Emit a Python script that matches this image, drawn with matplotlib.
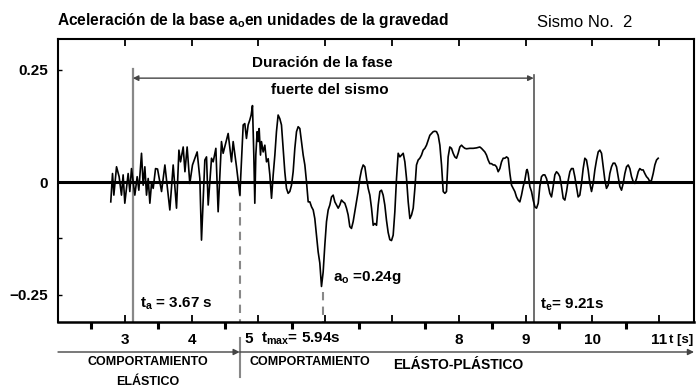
import matplotlib
matplotlib.use("Agg")
import matplotlib.pyplot as plt
from matplotlib import transforms

plt.rcParams['font.family'] = ['Liberation Sans', 'DejaVu Sans']
plt.rcParams['mathtext.fontset'] = 'custom'
plt.rcParams['mathtext.rm'] = 'Liberation Sans:bold'
plt.rcParams['mathtext.it'] = 'Liberation Sans:bold'
plt.rcParams['mathtext.bf'] = 'Liberation Sans:bold'

# registro digitalizado: tiempo [s] y aceleracion [g]
t_s = [
    2.790, 2.816, 2.836, 2.876, 2.915, 2.950, 2.975, 3.000, 3.050, 3.075,
    3.100, 3.150, 3.185, 3.210, 3.250, 3.275, 3.300, 3.325, 3.350, 3.375,
    3.400, 3.425, 3.460, 3.490, 3.550, 3.600, 3.674, 3.724, 3.774, 3.810,
    3.834, 3.874, 3.900, 3.933, 3.973, 4.013, 4.083, 4.123, 4.148, 4.198,
    4.223, 4.248, 4.298, 4.323, 4.363, 4.397, 4.447, 4.472, 4.547, 4.597,
    4.622, 4.672, 4.722, 4.772, 4.796, 4.821, 4.846, 4.871, 4.891, 4.911,
    4.931, 4.946, 4.961, 4.981, 4.996, 5.011, 5.031, 5.046, 5.071, 5.096,
    5.121, 5.146, 5.171, 5.196, 5.221, 5.246, 5.270, 5.295, 5.320, 5.345,
    5.370, 5.395, 5.420, 5.445, 5.470, 5.495, 5.520, 5.545, 5.570, 5.595,
    5.620, 5.645, 5.670, 5.695, 5.720, 5.745, 5.770, 5.795, 5.820, 5.844,
    5.869, 5.894, 5.919, 5.944, 5.969, 5.994, 6.019, 6.044, 6.069, 6.094,
    6.119, 6.144, 6.169, 6.194, 6.218, 6.243, 6.268, 6.293, 6.318, 6.343,
    6.368, 6.393, 6.418, 6.443, 6.468, 6.493, 6.518, 6.543, 6.568, 6.593,
    6.618, 6.643, 6.668, 6.693, 6.718, 6.743, 6.768, 6.793, 6.818, 6.842,
    6.867, 6.892, 6.917, 6.942, 6.967, 6.992, 7.017, 7.042, 7.067, 7.092,
    7.117, 7.142, 7.167, 7.192, 7.217, 7.242, 7.267, 7.292, 7.317, 7.342,
    7.366, 7.391, 7.416, 7.441, 7.466, 7.491, 7.516, 7.541, 7.566, 7.591,
    7.616, 7.641, 7.666, 7.691, 7.716, 7.741, 7.766, 7.791, 7.815, 7.840,
    7.865, 7.890, 7.915, 7.940, 7.965, 7.990, 8.015, 8.040, 8.065, 8.090,
    8.115, 8.165, 8.215, 8.265, 8.314, 8.339, 8.364, 8.389, 8.414, 8.439,
    8.464, 8.489, 8.514, 8.539, 8.564, 8.589, 8.614, 8.639, 8.664, 8.689,
    8.714, 8.739, 8.764, 8.789, 8.813, 8.838, 8.863, 8.888, 8.913, 8.938,
    8.963, 8.988, 9.013, 9.023, 9.038, 9.063, 9.088, 9.113, 9.138, 9.163,
    9.188, 9.212, 9.237, 9.262, 9.287, 9.312, 9.337, 9.362, 9.387, 9.412,
    9.437, 9.462, 9.487, 9.512, 9.537, 9.562, 9.587, 9.612, 9.637, 9.662,
    9.686, 9.711, 9.736, 9.761, 9.786, 9.811, 9.836, 9.861, 9.886, 9.911,
    9.936, 9.961, 9.986, 10.011, 10.036, 10.061, 10.086, 10.111, 10.136, 10.161,
    10.186, 10.210, 10.235, 10.260, 10.285, 10.310, 10.335, 10.360, 10.385, 10.410,
    10.435, 10.460, 10.485, 10.510, 10.535, 10.560, 10.585, 10.610, 10.635, 10.660,
    10.685, 10.709, 10.734, 10.759, 10.784, 10.809, 10.834, 10.859, 10.884, 10.909,
    10.934, 10.959, 10.984,
]
acc = [
    -0.044, 0.019, -0.029, 0.034, 0.012, -0.029, 0.016, -0.047, 0.019, -0.021,
    0.030, -0.029, 0.012, -0.018, 0.064, -0.007, 0.034, -0.029, 0.008, -0.047,
    -0.003, -0.014, 0.030, 0.029, -0.021, 0.038, -0.062, 0.038, -0.058, 0.071,
    0.045, 0.078, 0.023, 0.078, -0.003, 0.038, 0.067, 0.008, -0.129, 0.049,
    0.056, -0.051, 0.053, 0.045, 0.075, -0.066, 0.090, 0.064, 0.108, 0.045,
    0.090, 0.034, -0.029, 0.127, 0.130, 0.097, 0.127, 0.138, 0.149, 0.170,
    0.060, -0.047, 0.060, 0.112, 0.090, 0.119, 0.060, 0.090, 0.067, 0.082,
    0.045, 0.052, 0.016, -0.036, 0.016, 0.060, 0.112, 0.149, 0.141, 0.127,
    0.075, 0.023, -0.014, -0.025, -0.021, -0.007, 0.023, 0.075, 0.112, 0.123,
    0.119, 0.090, 0.060, 0.038, 0.000, -0.044, -0.044, -0.055, -0.062, -0.081,
    -0.118, -0.155, -0.180, -0.232, -0.200, -0.140, -0.088, -0.062, -0.051, -0.033,
    -0.029, -0.044, -0.051, -0.058, -0.051, -0.040, -0.044, -0.047, -0.058, -0.073,
    -0.099, -0.103, -0.088, -0.066, -0.044, -0.021, 0.008, 0.027, 0.038, 0.034,
    0.008, -0.014, -0.029, -0.058, -0.096, -0.092, -0.096, -0.051, -0.021, -0.018,
    -0.029, -0.051, -0.085, -0.112, -0.128, -0.130, -0.118, -0.066, 0.008, 0.064,
    0.056, 0.060, 0.064, 0.045, 0.008, -0.044, -0.081, -0.073, -0.058, -0.014,
    0.038, 0.049, 0.053, 0.060, 0.071, 0.075, 0.082, 0.093, 0.104, 0.108,
    0.112, 0.113, 0.112, 0.104, 0.082, 0.038, -0.021, -0.025, -0.021, 0.056,
    0.078, 0.075, 0.064, 0.056, 0.053, 0.064, 0.078, 0.082, 0.078, 0.075,
    0.074, 0.075, 0.075, 0.076, 0.078, 0.075, 0.071, 0.067, 0.060, 0.049,
    0.041, 0.041, 0.038, 0.038, 0.034, 0.023, 0.030, 0.045, 0.053, 0.053,
    0.056, 0.053, 0.019, -0.007, -0.014, -0.021, -0.033, -0.040, -0.044, -0.029,
    -0.010, 0.004, 0.026, 0.028, 0.019, -0.010, -0.021, -0.040, -0.055, -0.058,
    -0.047, -0.010, 0.012, 0.016, 0.016, 0.008, -0.007, -0.025, -0.033, -0.010,
    0.016, 0.023, 0.019, 0.012, -0.010, -0.036, -0.040, -0.021, 0.004, 0.023,
    0.030, 0.030, 0.012, -0.010, -0.033, -0.029, -0.003, 0.030, 0.053, 0.049,
    0.027, -0.003, -0.021, -0.003, 0.027, 0.049, 0.067, 0.071, 0.064, 0.034,
    0.004, -0.014, -0.007, 0.019, 0.034, 0.042, 0.042, 0.034, 0.012, -0.010,
    -0.018, -0.003, 0.019, 0.034, 0.038, 0.030, 0.012, 0.001, -0.003, 0.008,
    0.023, 0.030, 0.027, 0.027, 0.019, 0.012, 0.008, 0.001, 0.004, 0.019,
    0.038, 0.049, 0.053,
]

# marcas de la figura (posicion de las lineas tal como aparecen dibujadas)
t_ini_linea = 3.12      # t_a
t_fin_linea = 9.12      # t_e
t_elastico = 4.72       # limite comportamiento elastico
t_pico = 5.96           # t_max
y_ticks = [0.25, 0, -0.25]
y_labels = ['0.25', '0', '\u22120.25']
x_ticks = [3, 4, 5, 6, 7, 8, 9, 10, 11]
x_labels = ['3', '4', '', '', '', '8', '9', '10', '11']
x_minor = [2.5, 3.5, 4.5, 5.5, 6.5, 7.5, 8.5, 9.5, 10.5]

W, H = 697, 390
fig = plt.figure(figsize=(W / 100, H / 100), dpi=100)
ax = fig.add_axes([58 / W, 1 - 322 / H, 636 / W, 283 / H])

def fy(py):
    return 1 - py / H

trans = transforms.blended_transform_factory(ax.transData, fig.transFigure)

ax.plot(t_s, acc, color='black', lw=1.2, zorder=3)
ax.axhline(0, color='black', lw=2.2, zorder=4)

ax.set_xlim(2.0, 11.52)
ax.set_ylim(-0.311, 0.318)

for side in ['left', 'right', 'top', 'bottom']:
    ax.spines[side].set_linewidth(1.5)
ax.spines['bottom'].set_linewidth(1.8)

ax.set_yticks(y_ticks)
ax.set_yticklabels(y_labels, fontsize=11, fontweight='bold')
ax.set_yticks([-0.125], minor=True)
ax.tick_params(axis='y', which='both', direction='in', length=3, width=1, pad=7)

ax.set_xticks(x_ticks)
ax.set_xticklabels(x_labels, fontsize=11, fontweight='bold')
ax.set_xticks(x_minor, minor=True)
ax.tick_params(axis='x', which='major', direction='in', length=5, width=1.3,
               top=True, pad=8)
ax.tick_params(axis='x', which='minor', direction='out', length=5, width=2.2,
               top=False)

# lineas de la fase fuerte
ax.plot([t_ini_linea, t_ini_linea], [0.251, -0.311], color='#888888', lw=1.6, zorder=2)
ax.plot([t_fin_linea, t_fin_linea], [0.238, -0.311], color='#555555', lw=1.2, zorder=2)
ax.annotate('', xy=(t_ini_linea, 0.231), xytext=(t_fin_linea, 0.231),
            arrowprops=dict(arrowstyle='<|-|>', color='#444444', lw=1.0,
                            mutation_scale=8, shrinkA=0, shrinkB=0))
ax.text(5.96, 0.264, 'Duración de la fase', ha='center', va='center',
        fontsize=11, fontweight='bold')
ax.text(6.07, 0.204, 'fuerte del sismo', ha='center', va='center',
        fontsize=11, fontweight='bold')

# lineas discontinuas
ax.plot([t_elastico, t_elastico], [-0.013, -0.311], color='#888888', lw=1.5,
        ls=(0, (4, 3)), zorder=2)
ax.plot([t_pico, t_pico], [-0.245, -0.311], color='#888888', lw=1.5,
        ls=(0, (4, 3)), zorder=2)

# etiquetas dentro del grafico
ax.text(3.225, fy(308), r'$\mathregular{t_a}$ = 3.67 s', transform=trans,
        fontsize=11, fontweight='bold', va='baseline')
ax.text(6.114, fy(281), r'$\mathregular{a_o}$ =0.24g', transform=trans,
        fontsize=11, fontweight='bold', va='baseline')
ax.text(9.213, fy(309), r'$\mathregular{t_e}$= 9.21s', transform=trans,
        fontsize=11, fontweight='bold', va='baseline')

# eje de tiempo: etiquetas especiales
ax.text(4.856, fy(343), '5', transform=trans, fontsize=11, fontweight='bold',
        ha='center', va='baseline')
ax.text(5.036, fy(343), r'$\mathregular{t_{max}}$= 5.94s', transform=trans,
        fontsize=11, fontweight='bold', va='baseline')
ax.text(11.14, fy(343), 't [s]', transform=trans, fontsize=9.5,
        fontweight='bold', va='baseline', clip_on=False)

# flechas de comportamiento
ax.annotate('', xy=(t_elastico, fy(352)), xytext=(2.0, fy(352)),
            xycoords=trans, textcoords=trans, annotation_clip=False,
            arrowprops=dict(arrowstyle='-|>', color='#444444', lw=1.0,
                            mutation_scale=9, shrinkA=0, shrinkB=0))
ax.annotate('', xy=(11.52, fy(352)), xytext=(t_elastico, fy(352)),
            xycoords=trans, textcoords=trans, annotation_clip=False,
            arrowprops=dict(arrowstyle='-|>', color='#444444', lw=1.0,
                            mutation_scale=9, shrinkA=0, shrinkB=0))
ax.plot([t_elastico, t_elastico], [fy(338), fy(377)], transform=trans,
        color='#888888', lw=1.5, clip_on=False)

ax.text(3.344, fy(362), 'COMPORTAMIENTO', transform=trans, ha='center',
        va='center', fontsize=9, fontweight='bold')
ax.text(3.344, fy(382), 'ELÁSTICO', transform=trans, ha='center',
        va='center', fontsize=9, fontweight='bold')
ax.text(4.871, fy(362), 'COMPORTAMIENTO', transform=trans, ha='left',
        va='center', fontsize=9, fontweight='bold')
ax.text(7.012, fy(365), 'ELÁSTO-PLÁSTICO', transform=trans, ha='left',
        va='center', fontsize=10, fontweight='bold')

# titulos
fig.text(57 / W, fy(25), r'Aceleración de la base $\mathregular{a_o}$en unidades de la gravedad',
         fontsize=11.2, fontweight='bold', va='baseline')
fig.text(537 / W, fy(27), 'Sismo No.  2', fontsize=12, va='baseline')

fig.savefig('out.png', dpi=100)
